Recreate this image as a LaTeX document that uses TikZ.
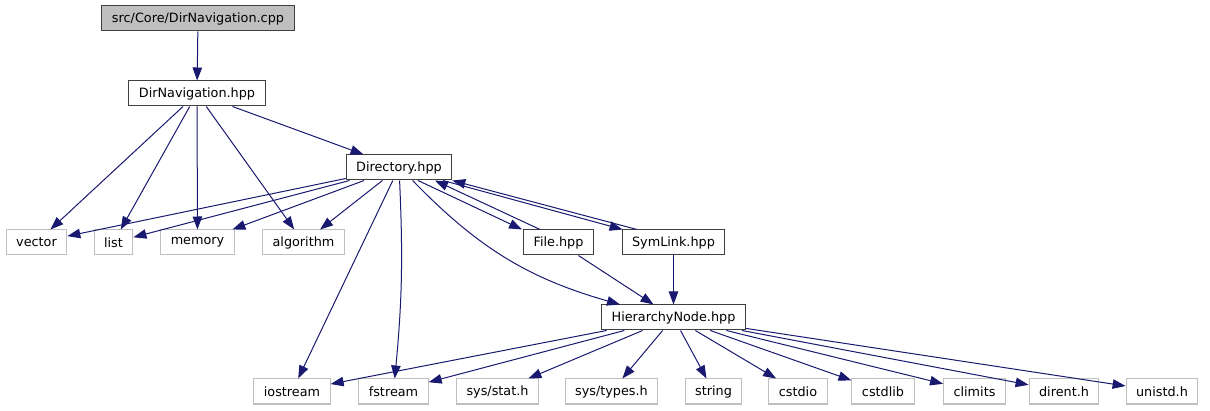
\documentclass[tikz,border=0pt]{standalone}
\usepackage{fontspec}
\setmainfont{DejaVu Sans}
\usepackage{xcolor}
\usetikzlibrary{arrows.meta,positioning}
\definecolor{edgeblue}{HTML}{191970}
\definecolor{boxgray}{HTML}{BFBFBF}

\begin{document}
\begin{tikzpicture}[x=1pt,y=-1pt,font=\fontsize{12.8}{15}\selectfont,
 hdr/.style={draw=black!75,line width=1pt,fill=white,inner xsep=10pt,inner ysep=0pt,minimum height=25pt},
 sys/.style={hdr,draw=boxgray},
 top/.style={hdr,fill=boxgray},
 ar/.style={-{Triangle[length=13pt,width=9.5pt]},draw=edgeblue,line width=1pt}]
\useasboundingbox (0,0) rectangle (1210,411);
% upper part
\node[top] (cpp) at (198,18.5) {src/Core/DirNavigation.cpp};
\node[hdr] (dnav) at (197,93.5) {DirNavigation.hpp};
\node[hdr] (dir) at (399,167.5) {Directory.hpp};
\node[sys] (vector) at (36.5,242.5) {vector};
\node[sys] (list) at (113.5,242.5) {list};
\node[sys] (memory) at (197.5,242.5) {memory};
\node[sys] (algo) at (303.5,242.5) {algorithm};
\node[hdr] (file) at (558.5,242.5) {File.hpp};
\node[hdr] (sym) at (673.5,242.5) {SymLink.hpp};
\node[hdr] (hn) at (673.5,317.5) {HierarchyNode.hpp};
% bottom row
\node[sys] (iostream) at (292,391.5) {iostream};
\node[sys] (fstream) at (393.5,391.5) {fstream};
\node[sys] (stat) at (497.5,391.5) {sys/stat.h};
\node[sys] (types) at (611.5,391.5) {sys/types.h};
\node[sys] (string) at (713.5,391.5) {string};
\node[sys] (cstdio) at (798,391.5) {cstdio};
\node[sys] (cstdlib) at (883,391.5) {cstdlib};
\node[sys] (climits) at (974.5,391.5) {climits};
\node[sys] (dirent) at (1064,391.5) {dirent.h};
\node[sys] (unistd) at (1162,391.5) {unistd.h};
\draw[ar] (cpp)--(dnav);
\foreach \t in {vector,list,memory,algo,dir} \draw[ar] (dnav)--(\t);
\foreach \t in {vector,list,memory,algo,iostream} \draw[ar] (dir)--(\t);
\draw[ar] (dir) to[bend left=4] (fstream);
\draw[ar] (dir) to[bend right=15] (hn);
\draw[ar] ([xshift=19pt]dir.south) -- ([xshift=-1pt]file.north west);
\draw[ar] ([xshift=-18.5pt]file.north) -- ([xshift=36pt]dir.south);
\draw[ar] ([xshift=44pt]dir.south) -- ([xshift=1pt]sym.north west);
\draw[ar] ([xshift=-36.5pt]sym.north) -- (dir.south east);
\draw[ar] (file)--(hn); \draw[ar] (sym)--(hn);
\foreach \t in {iostream,fstream,stat,types,string,cstdio,cstdlib,climits,dirent,unistd}
 \draw[ar] (hn)--(\t);
\end{tikzpicture}
\end{document}
